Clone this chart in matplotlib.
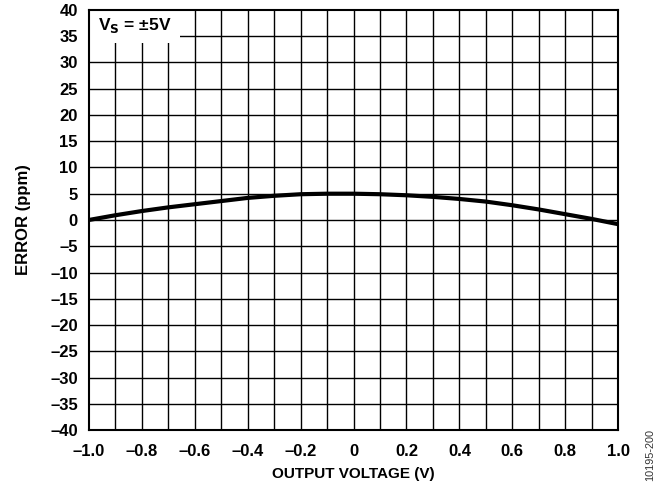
import matplotlib
matplotlib.use("Agg")
import matplotlib.pyplot as plt
import numpy as np

plt.rcParams['font.family'] = ['Liberation Sans', 'DejaVu Sans']

# Data
output_voltage = [-1.0, -0.9, -0.8, -0.7, -0.6, -0.5, -0.4, -0.3, -0.2, -0.1,
                  0.0, 0.1, 0.2, 0.3, 0.4, 0.5, 0.6, 0.7, 0.8, 0.9, 1.0]
error_ppm = [0.0, 0.9, 1.7, 2.4, 3.0, 3.6, 4.2, 4.6, 4.9, 5.0,
             5.0, 4.9, 4.7, 4.4, 4.0, 3.5, 2.8, 2.0, 1.1, 0.2, -0.8]

x_ticks = [-1.0, -0.8, -0.6, -0.4, -0.2, 0, 0.2, 0.4, 0.6, 0.8, 1.0]
x_labels = ["\u20131.0", "\u20130.8", "\u20130.6", "\u20130.4", "\u20130.2", "0",
            "0.2", "0.4", "0.6", "0.8", "1.0"]
y_ticks = list(range(-40, 41, 5))
y_labels = [("\u2013" + str(-v)) if v < 0 else str(v) for v in y_ticks]

fig = plt.figure(figsize=(6.69, 4.91), dpi=100)
ax = fig.add_axes([0.133, 0.124, 0.791, 0.856])

ax.set_xlim(-1.0, 1.0)
ax.set_ylim(-40, 40)

# grid every 0.1 V and 5 ppm
for gx in np.arange(-0.9, 0.95, 0.1):
    ax.axvline(gx, color='black', lw=1.0, zorder=1)
for gy in y_ticks[1:-1]:
    ax.axhline(gy, color='black', lw=1.0, zorder=1)

# white label box hiding the grid in the corner
ax.add_patch(plt.Rectangle((-1.0, 33.7), 0.345, 6.3, facecolor='white',
                           edgecolor='none', zorder=2))
ax.text(-0.965, 37.0, "V$_{\\mathbf{S}}$ = \u00b15V", fontsize=12.5,
        fontweight='bold', va='center', ha='left', zorder=3)

ax.plot(output_voltage, error_ppm, color='black', lw=3, zorder=4)

ax.set_xticks(x_ticks)
ax.set_xticklabels(x_labels, fontsize=12, fontweight='bold')
ax.set_yticks(y_ticks)
ax.set_yticklabels(y_labels, fontsize=12, fontweight='bold')
ax.tick_params(axis='x', length=0, pad=10)
ax.tick_params(axis='y', length=0, pad=8)

for s in ax.spines.values():
    s.set_linewidth(1.5)
    s.set_zorder(5)

ax.set_xlabel("OUTPUT VOLTAGE (V)", fontsize=11, fontweight='bold', labelpad=6)
ax.set_ylabel("ERROR (ppm)", fontsize=12, fontweight='bold', labelpad=14)

fig.text(0.972, 0.073, "10195-200", rotation=90, fontsize=7.8, color='#333333',
         ha='center', va='center')

fig.savefig("out.png", dpi=100)
